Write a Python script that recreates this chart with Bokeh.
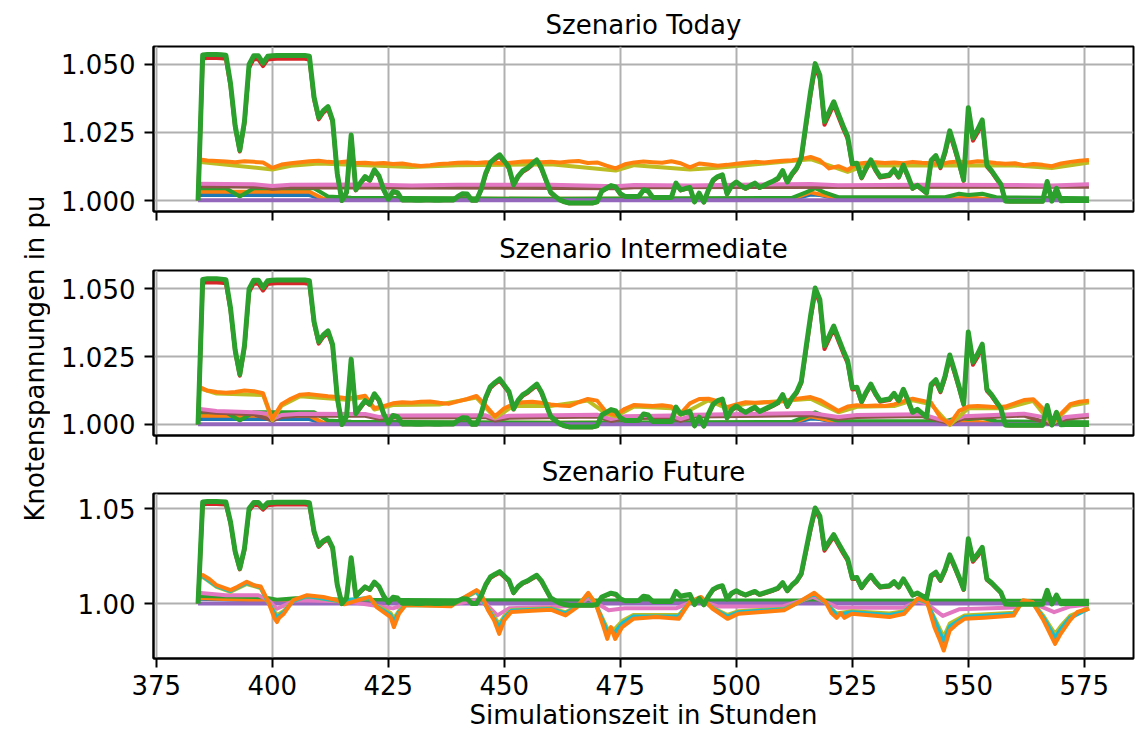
import math
from bokeh.plotting import figure
from bokeh.layouts import column, row
from bokeh.models import Range1d, FixedTicker, PrintfTickFormatter, CustomJSTickFormatter
from bokeh.core.properties import value
from bokeh.embed import file_html
from bokeh.resources import INLINE

# ---------------- data ----------------
titles = ["Szenario Today", "Szenario Intermediate", "Szenario Future"]
x_ticks = [375, 400, 425, 450, 475, 500, 525, 550, 575]
y_ticks_12 = [1.000, 1.025, 1.050]
y_ticks_3 = [1.00, 1.05]
x_label = "Simulationszeit in Stunden"
y_label = "Knotenspannungen in pu"

hours = list(range(384, 577))        # hourly time stamps
hours2 = list(range(384, 577, 2))    # two-hourly time stamps

# node with the largest voltage (identical in all scenarios), hourly
head_green = [
    1.0000, 1.0535, 1.0537, 1.0537, 1.0537, 1.0536, 1.0534, 1.0430, 1.0275, 1.0185,
    1.0290, 1.0500, 1.0532, 1.0532, 1.0505, 1.0530, 1.0532, 1.0533, 1.0533, 1.0533,
    1.0533, 1.0533, 1.0533, 1.0533, 1.0530, 1.0380, 1.0305, 1.0330, 1.0345, 1.0295,
    1.0100, 1.0000, 1.0030, 1.0241, 1.0040, 1.0065, 1.0088, 1.0075, 1.0113, 1.0090,
    1.0040, 1.0005, 1.0033, 1.0029, 1.0002, 1.0002, 1.0002, 1.0001, 1.0001, 1.0002,
    1.0002, 1.0001, 1.0001, 1.0002, 1.0002, 1.0002, 1.0015, 1.0025, 1.0024, 1.0001,
    1.0001, 1.0040, 1.0100, 1.0140, 1.0155, 1.0168, 1.0145, 1.0122, 1.0058, 1.0090,
    1.0110, 1.0120, 1.0135, 1.0149, 1.0120, 1.0075, 1.0030, 1.0015, 1.0002, 0.9995,
    0.9991, 0.9991, 0.9991, 0.9991, 0.9991, 0.9991, 0.9995, 1.0035, 1.0045, 1.0055,
    1.0050, 1.0025, 1.0015, 1.0015, 1.0015, 1.0016, 1.0039, 1.0035, 1.0011, 1.0011,
    1.0011, 1.0011, 1.0011, 1.0064, 1.0039, 1.0044, 1.0048, 0.9995, 1.0027, 0.9994,
    1.0039, 1.0075, 1.0088, 1.0094, 1.0025, 1.0055, 1.0068, 1.0055, 1.0045, 1.0055,
    1.0064, 1.0048, 1.0056, 1.0064, 1.0072, 1.0082, 1.0110, 1.0068, 1.0098, 1.0120,
    1.0158, 1.0280, 1.0400, 1.0503, 1.0461, 1.0290, 1.0326, 1.0363, 1.0318, 1.0275,
    1.0235, 1.0135, 1.0137, 1.0085, 1.0120, 1.0149, 1.0115, 1.0088, 1.0091, 1.0094,
    1.0115, 1.0088, 1.0130, 1.0090, 1.0045, 1.0056, 1.0042, 1.0028, 1.0148, 1.0165,
    1.0125, 1.0180, 1.0256, 1.0200, 1.0140, 1.0076, 1.0341, 1.0230, 1.0260, 1.0296,
    1.0130, 1.0110, 1.0085, 1.0060, 0.9998, 0.9997, 0.9997, 0.9997, 0.9997, 0.9997,
    0.9997, 0.9997, 0.9997, 1.0070, 0.9998, 1.0045, 0.9999, 1.0000, 1.0000, 1.0000,
    1.0000, 1.0000, 1.0000,
]
head_red = [
    1.0000, 1.0522, 1.0524, 1.0524, 1.0524, 1.0523, 1.0521, 1.0420, 1.0268, 1.0180,
    1.0282, 1.0488, 1.0520, 1.0519, 1.0494, 1.0518, 1.0520, 1.0521, 1.0521, 1.0521,
    1.0521, 1.0521, 1.0521, 1.0521, 1.0518, 1.0372, 1.0298, 1.0323, 1.0337, 1.0288,
    1.0096, 0.9999, 1.0028, 1.0234, 1.0037, 1.0062, 1.0084, 1.0072, 1.0109, 1.0087,
    1.0038, 1.0004, 1.0031, 1.0027, 1.0001, 1.0001, 1.0001, 1.0001, 1.0001, 1.0001,
    1.0001, 1.0001, 1.0001, 1.0001, 1.0001, 1.0001, 1.0013, 1.0023, 1.0022, 1.0000,
    1.0000, 1.0038, 1.0096, 1.0135, 1.0150, 1.0162, 1.0140, 1.0118, 1.0055, 1.0087,
    1.0106, 1.0116, 1.0130, 1.0144, 1.0116, 1.0072, 1.0028, 1.0013, 1.0001, 0.9994,
    0.9990, 0.9990, 0.9990, 0.9990, 0.9990, 0.9990, 0.9994, 1.0033, 1.0043, 1.0052,
    1.0047, 1.0023, 1.0013, 1.0013, 1.0013, 1.0014, 1.0037, 1.0033, 1.0010, 1.0010,
    1.0010, 1.0010, 1.0010, 1.0061, 1.0037, 1.0042, 1.0046, 0.9994, 1.0025, 0.9993,
    1.0037, 1.0072, 1.0085, 1.0090, 1.0023, 1.0052, 1.0065, 1.0052, 1.0043, 1.0052,
    1.0061, 1.0046, 1.0053, 1.0061, 1.0069, 1.0078, 1.0105, 1.0065, 1.0094, 1.0115,
    1.0152, 1.0270, 1.0388, 1.0490, 1.0448, 1.0278, 1.0315, 1.0352, 1.0308, 1.0265,
    1.0226, 1.0129, 1.0131, 1.0081, 1.0115, 1.0143, 1.0110, 1.0084, 1.0087, 1.0090,
    1.0110, 1.0084, 1.0124, 1.0086, 1.0043, 1.0053, 1.0040, 1.0026, 1.0142, 1.0158,
    1.0119, 1.0172, 1.0246, 1.0191, 1.0134, 1.0072, 1.0328, 1.0220, 1.0249, 1.0284,
    1.0124, 1.0105, 1.0081, 1.0057, 0.9997, 0.9996, 0.9996, 0.9996, 0.9996, 0.9996,
    0.9996, 0.9996, 0.9996, 1.0066, 0.9997, 1.0042, 0.9998, 0.9999, 0.9999, 0.9999,
    0.9999, 0.9999, 0.9999,
]

# low nodes (Today / Intermediate)
low_blue_h = [384, 408, 411, 512, 516, 518, 522, 576]
low_blue_v = [1.0020, 1.0020, 1.0004, 1.0004, 1.0022, 1.0020, 1.0006, 1.0003]
low_orange_h = [384, 408, 411, 512, 516, 522, 546, 550, 554, 576]
low_orange_v = [1.0032, 1.0032, 1.0006, 1.0006, 1.0030, 1.0008, 1.0006, 1.0012, 1.0006, 1.0004]
low_green_h = [384, 390, 393, 396, 409, 412, 417, 440, 460, 512, 515, 517, 519, 522,
               545, 548, 550, 553, 556, 576]
low_green_v = [1.0045, 1.0045, 1.0015, 1.0045, 1.0045, 1.0015, 1.0010, 1.0008, 1.0006, 1.0010,
               1.0030, 1.0045, 1.0030, 1.0012, 1.0012, 1.0025, 1.0020, 1.0025, 1.0012, 1.0008]
purple_h = [384, 576]
purple_v = [1.0001, 1.0001]

# Scenario Today
today_orange = [
    1.0152, 1.0147, 1.0145, 1.0143, 1.0141, 1.0144, 1.0142, 1.0140, 1.0120, 1.0132,
    1.0137, 1.0141, 1.0144, 1.0146, 1.0142, 1.0140, 1.0143, 1.0138, 1.0139, 1.0136,
    1.0138, 1.0134, 1.0136, 1.0131, 1.0127, 1.0130, 1.0134, 1.0136, 1.0139, 1.0140,
    1.0138, 1.0141, 1.0139, 1.0136, 1.0140, 1.0143, 1.0144, 1.0141, 1.0142, 1.0140,
    1.0143, 1.0145, 1.0138, 1.0140, 1.0128, 1.0118, 1.0133, 1.0140, 1.0143, 1.0141,
    1.0139, 1.0144, 1.0137, 1.0122, 1.0136, 1.0132, 1.0128, 1.0131, 1.0135, 1.0139,
    1.0142, 1.0140, 1.0143, 1.0146, 1.0148, 1.0152, 1.0160, 1.0148, 1.0118, 1.0126,
    1.0112, 1.0135, 1.0139, 1.0141, 1.0138, 1.0140, 1.0137, 1.0142, 1.0139, 1.0137,
    1.0133, 1.0141, 1.0143, 1.0140, 1.0144, 1.0142, 1.0138, 1.0135, 1.0137, 1.0130,
    1.0134, 1.0131, 1.0126, 1.0136, 1.0142, 1.0146, 1.0149,
]
today_olive_h = [384, 400, 404, 410, 430, 440, 460, 474, 478, 490, 496, 516, 524, 528, 560, 568, 576]
today_olive_v = [1.0142, 1.0114, 1.0128, 1.0136, 1.0123, 1.0130, 1.0133, 1.0110, 1.0130,
                 1.0114, 1.0120, 1.0152, 1.0105, 1.0130, 1.0129, 1.0119, 1.0140]
today_pink_h = [384, 396, 400, 404, 420, 430, 440, 460, 474, 478, 490, 500, 516, 522, 540, 560, 568, 576]
today_pink_v = [1.0062, 1.0060, 1.0053, 1.0058, 1.0059, 1.0055, 1.0058, 1.0058, 1.0052,
                1.0057, 1.0055, 1.0058, 1.0061, 1.0056, 1.0058, 1.0057, 1.0055, 1.0060]
today_brown_h = [384, 398, 400, 404, 430, 474, 478, 576]
today_brown_v = [1.0052, 1.0050, 1.0043, 1.0049, 1.0048, 1.0045, 1.0049, 1.0051]

# Scenario Intermediate
inter_orange = [
    1.0141, 1.0125, 1.0120, 1.0117, 1.0120, 1.0125, 1.0123, 1.0115, 1.0020, 1.0075,
    1.0095, 1.0110, 1.0112, 1.0108, 1.0104, 1.0101, 1.0097, 1.0100, 1.0106, 1.0060,
    1.0068, 1.0078, 1.0082, 1.0080, 1.0084, 1.0085, 1.0080, 1.0076, 1.0085, 1.0094,
    1.0105, 1.0070, 1.0030, 1.0060, 1.0075, 1.0082, 1.0084, 1.0080, 1.0074, 1.0070,
    1.0068, 1.0082, 1.0094, 1.0088, 1.0045, 1.0035, 1.0058, 1.0072, 1.0070, 1.0068,
    1.0071, 1.0066, 1.0040, 1.0078, 1.0094, 1.0095, 1.0086, 1.0064, 1.0074, 1.0082,
    1.0080, 1.0082, 1.0082, 1.0086, 1.0092, 1.0097, 1.0101, 1.0090, 1.0070, 1.0050,
    1.0066, 1.0071, 1.0068, 1.0070, 1.0068, 1.0074, 1.0085, 1.0095, 1.0088, 1.0080,
    1.0025, 1.0002, 1.0050, 1.0066, 1.0068, 1.0066, 1.0064, 1.0066, 1.0078, 1.0090,
    1.0093, 1.0060, 1.0005, 1.0040, 1.0075, 1.0084, 1.0088,
]
inter_olive_h = [384, 388, 398, 400, 402, 406, 416, 420, 422, 426, 436, 444, 448, 452, 460,
                 468, 472, 474, 478, 486, 488, 494, 498, 502, 516, 522, 526, 534, 538, 542,
                 546, 550, 558, 564, 568, 572, 576]
inter_olive_v = [1.0135, 1.0114, 1.0109, 1.0016, 1.0069, 1.0104, 1.0091, 1.0100, 1.0055,
                 1.0072, 1.0074, 1.0099, 1.0025, 1.0069, 1.0068, 1.0088, 1.0039, 1.0030,
                 1.0066, 1.0060, 1.0035, 1.0089, 1.0059, 1.0076, 1.0095, 1.0045, 1.0065,
                 1.0068, 1.0089, 1.0074, 0.9998, 1.0060, 1.0060, 1.0087, 1.0001, 1.0069, 1.0082]
inter_pink_h = [384, 388, 396, 399, 400, 402, 406, 420, 423, 426, 446, 448, 451, 470, 473,
                476, 486, 488, 491, 516, 522, 526, 540, 544, 546, 549, 562, 566, 568, 571, 576]
inter_pink_v = [1.0058, 1.0050, 1.0045, 1.0040, 1.0020, 1.0035, 1.0040, 1.0039, 1.0028,
                1.0033, 1.0034, 1.0022, 1.0032, 1.0036, 1.0020, 1.0030, 1.0033, 1.0020,
                1.0036, 1.0042, 1.0028, 1.0035, 1.0038, 1.0018, 1.0010, 1.0030, 1.0040,
                1.0028, 1.0005, 1.0028, 1.0036]
inter_brown_h = [384, 388, 396, 400, 402, 406, 420, 423, 426, 446, 448, 451, 470, 473, 476,
                 486, 488, 491, 516, 522, 526, 540, 546, 549, 562, 568, 571, 576]
inter_brown_v = [1.0050, 1.0043, 1.0038, 1.0014, 1.0028, 1.0033, 1.0032, 1.0021, 1.0026,
                 1.0027, 1.0015, 1.0025, 1.0029, 1.0013, 1.0023, 1.0026, 1.0013, 1.0029,
                 1.0035, 1.0021, 1.0028, 1.0031, 1.0004, 1.0023, 1.0033, 1.0000, 1.0021, 1.0029]

# Scenario Future
fut_orange_h = [384, 385, 386.5, 388, 391, 392.5, 394.5, 396, 397.5, 399, 400.5, 401, 401.5,
                402.5, 404.5, 407.5, 411, 414, 415.5, 418.5, 421, 422.5, 425.5, 426.2, 427.3,
                428.7, 431, 438.5, 441.5, 444, 445, 446.5, 447.8, 448.9, 450, 451.5, 456, 460,
                463.2, 465.7, 468.1, 469.7, 471.4, 472.2, 473, 473.9, 475.4, 477.8, 482.7,
                487.6, 490, 492.4, 494.9, 498.1, 500.5, 505.4, 510.3, 513.5, 516.8, 519.2,
                520.5, 521.6, 522.5, 523.3, 524.9, 533, 536.2, 539.1, 541.1, 542.7, 543.9,
                544.7, 546, 547.6, 549.2, 553.3, 559.8, 561.8, 563.8, 566.2, 568.7, 569.9,
                571.9, 573.5, 576]
fut_orange_v = [1.0145, 1.0150, 1.0128, 1.0097, 1.0071, 1.0088, 1.0115, 1.0097, 1.0090,
                1.0018, 0.9922, 0.9903, 0.9925, 0.9947, 1.0018, 1.0044, 1.0035, 1.0018,
                0.9996, 1.0018, 1.0035, 0.9982, 0.9929, 0.9876, 0.9947, 0.9991, 0.9991,
                0.9986, 1.0035, 1.0071, 1.0053, 0.9965, 0.9912, 0.9841, 0.9912, 0.9956,
                0.9962, 0.9968, 0.9938, 0.9982, 1.0057, 1.0000, 0.9876, 0.9814, 0.9876,
                0.9814, 0.9876, 0.9920, 0.9929, 0.9920, 1.0009, 1.0035, 0.9973, 0.9920,
                0.9947, 0.9956, 0.9965, 1.0009, 1.0057, 1.0009, 0.9950, 0.9925, 0.9950,
                0.9925, 0.9947, 0.9929, 0.9947, 1.0027, 1.0009, 0.9876, 0.9806, 0.9753,
                0.9859, 0.9894, 0.9920, 0.9926, 0.9938, 1.0018, 1.0009, 0.9912, 0.9788,
                0.9841, 0.9912, 0.9956, 0.9973]
fut_cyan_h = [384, 385, 388, 391, 394.5, 397.5, 399, 401, 402.5, 404.5, 407.5, 414, 421,
              422.5, 425.5, 426.2, 427.3, 428.7, 438.5, 441.5, 444, 446.5, 448.9, 450, 451.5,
              460, 463.2, 465.7, 468.1, 469.7, 472.2, 473.9, 475.4, 477.8, 487.6, 490, 492.4,
              494.9, 498.1, 500.5, 510.3, 513.5, 516.8, 519.2, 521.6, 524.9, 533, 536.2,
              539.1, 541.1, 543.9, 544.7, 546, 549.2, 559.8, 561.8, 563.8, 566.2, 568.7,
              569.9, 571.9, 576]
fut_cyan_v = [1.0140, 1.0145, 1.0092, 1.0066, 1.0108, 1.0085, 1.0012, 0.9925, 0.9955,
              1.0015, 1.0040, 1.0015, 1.0030, 0.9985, 0.9940, 0.9905, 0.9955, 0.9992,
              0.9990, 1.0032, 1.0066, 0.9972, 0.9875, 0.9925, 0.9962, 0.9972, 0.9948,
              0.9985, 1.0052, 0.9998, 0.9850, 0.9850, 0.9895, 0.9932, 0.9932, 1.0008,
              1.0030, 0.9976, 0.9932, 0.9955, 0.9970, 1.0008, 1.0052, 1.0006, 0.9940,
              0.9955, 0.9940, 0.9955, 1.0024, 1.0006, 0.9845, 0.9800, 0.9880, 0.9930,
              0.9945, 1.0015, 1.0008, 0.9925, 0.9820, 0.9865, 0.9925, 0.9975]
fut_olive_h = fut_cyan_h
fut_olive_v = [1.0135, 1.0140, 1.0088, 1.0062, 1.0103, 1.0082, 1.0010, 0.9938, 0.9962,
               1.0014, 1.0038, 1.0014, 1.0028, 0.9988, 0.9950, 0.9922, 0.9962, 0.9993,
               0.9991, 1.0030, 1.0062, 0.9976, 0.9892, 0.9935, 0.9966, 0.9975, 0.9955,
               0.9987, 1.0050, 0.9998, 0.9868, 0.9868, 0.9908, 0.9940, 0.9940, 1.0007,
               1.0028, 0.9978, 0.9940, 0.9960, 0.9973, 1.0007, 1.0050, 1.0005, 0.9948,
               0.9960, 0.9948, 0.9960, 1.0022, 1.0005, 0.9865, 0.9825, 0.9895, 0.9938,
               0.9952, 1.0013, 1.0007, 0.9935, 0.9840, 0.9880, 0.9935, 0.9978]
fut_pink_h = [384, 390, 397, 399, 401, 403, 405, 415, 418, 426, 429, 440, 444, 446, 448.5,
              451, 460, 466, 468, 470, 472.5, 476, 487, 490, 492, 496, 510, 516.5, 520, 522,
              536, 539, 541, 544.5, 548, 560, 562, 564, 568.5, 572, 576]
fut_pink_v = [1.0057, 1.0044, 1.0044, 1.0020, 0.9973, 0.9995, 1.0018, 1.0012, 1.0005,
              0.9975, 0.9998, 1.0000, 1.0020, 1.0000, 0.9938, 0.9975, 0.9982, 0.9990,
              1.0030, 1.0000, 0.9965, 0.9975, 0.9975, 1.0005, 1.0015, 0.9985, 0.9985,
              1.0035, 1.0000, 0.9978, 0.9978, 1.0012, 1.0000, 0.9935, 0.9970, 0.9980,
              1.0008, 1.0002, 0.9955, 0.9985, 0.9995]
fut_green_h = [384, 398, 401, 405, 416, 440, 470, 576]
fut_green_v = [1.0040, 1.0034, 1.0020, 1.0028, 1.0020, 1.0018, 1.0016, 1.0015]
fut_blue_h = [384, 400, 576]
fut_blue_v = [1.0025, 1.0015, 1.0005]
fut_orange_lo_h = [384, 400, 576]
fut_orange_lo_v = [1.0030, 1.0015, 1.0004]

# ---------------- styling ----------------
C = {"blue": "#1f77b4", "orange": "#ff7f0e", "green": "#2ca02c", "red": "#d62728",
     "purple": "#9467bd", "brown": "#8c564b", "pink": "#e377c2", "gray": "#7f7f7f",
     "olive": "#bcbd22", "cyan": "#17becf"}
FONT = "DejaVu Sans"
FS = "26px"
LW = 4
LW_HEAD = 5
LEFT_W = 50


def make_fig(title, y_start, y_end, yticks, fmt, top, bottom, show_x, xlab=None):
    p = figure(width=1145 - LEFT_W, frame_width=980, frame_height=165,
               x_range=Range1d(374.4, 585.6), y_range=Range1d(y_start, y_end),
               output_backend="svg", toolbar_location=None,
               min_border_left=153 - LEFT_W, min_border_right=12,
               min_border_top=top, min_border_bottom=bottom)
    p.title.text = title
    p.title.align = "center"
    p.title.text_font = FONT
    p.title.text_font_size = FS
    p.title.text_font_style = "normal"
    p.title.text_color = "black"
    p.title.standoff = 14
    p.outline_line_color = "black"
    p.outline_line_width = 2
    p.outline_line_alpha = 1
    p.background_fill_color = "white"
    p.border_fill_color = "white"

    p.xaxis.ticker = FixedTicker(ticks=x_ticks)
    p.yaxis.ticker = FixedTicker(ticks=yticks)
    p.yaxis.formatter = PrintfTickFormatter(format=fmt)
    for ax in (p.xaxis[0], p.yaxis[0]):
        ax.major_tick_out = 9
        ax.major_tick_in = 0
        ax.minor_tick_out = 0
        ax.minor_tick_in = 0
        ax.major_tick_line_width = 2
        ax.major_tick_line_color = "black"
        ax.axis_line_width = 2
        ax.axis_line_color = "black"
        ax.major_label_text_font = FONT
        ax.major_label_text_font_size = FS
        ax.major_label_text_color = "black"
        ax.major_label_standoff = 7
        ax.axis_label_text_font = FONT
        ax.axis_label_text_font_size = FS
        ax.axis_label_text_font_style = "normal"
        ax.axis_label_text_color = "black"
    p.yaxis.major_label_standoff = 9
    if not show_x:
        # shared x axis: tick marks only, labels are shown below the last panel
        p.xaxis.formatter = CustomJSTickFormatter(code="return ''")
        p.xaxis.major_label_text_font_size = "1px"
        p.xaxis.major_label_standoff = 0
    if xlab:
        p.xaxis.axis_label = xlab
        p.xaxis.axis_label_standoff = 2
    p.grid.grid_line_color = "#b0b0b0"
    p.grid.grid_line_width = 2
    return p


def add(p, xs, ys, color, lw=LW):
    p.line(xs, ys, line_color=C[color], line_width=lw, line_join="round")


p1 = make_fig(titles[0], 0.99596, 1.0566, y_ticks_12, "%.3f", 45, 12, False)
p2 = make_fig(titles[1], 0.99594, 1.05678, y_ticks_12, "%.3f", 47, 11, False)
p3 = make_fig(titles[2], 0.97112, 1.05792, y_ticks_3, "%.2f", 47, 81, True, xlab=x_label)

# Today
add(p1, low_blue_h, low_blue_v, "blue")
add(p1, low_orange_h, low_orange_v, "orange")
add(p1, low_green_h, low_green_v, "green")
add(p1, hours, head_red, "red")
add(p1, purple_h, purple_v, "purple")
add(p1, today_brown_h, today_brown_v, "brown")
add(p1, today_pink_h, today_pink_v, "pink")
add(p1, today_olive_h, today_olive_v, "olive")
add(p1, hours2, today_orange, "orange")
add(p1, hours, head_green, "green", LW_HEAD)

# Intermediate
add(p2, low_blue_h, low_blue_v, "blue")
add(p2, low_orange_h, low_orange_v, "orange")
add(p2, low_green_h, low_green_v, "green")
add(p2, hours, head_red, "red")
add(p2, purple_h, purple_v, "purple")
add(p2, inter_brown_h, inter_brown_v, "brown")
add(p2, inter_pink_h, inter_pink_v, "pink")
add(p2, inter_olive_h, inter_olive_v, "olive")
add(p2, hours2, inter_orange, "orange")
add(p2, hours, head_green, "green", LW_HEAD)

# Future
add(p3, fut_blue_h, fut_blue_v, "blue")
add(p3, fut_orange_lo_h, fut_orange_lo_v, "orange")
add(p3, fut_green_h, fut_green_v, "green")
add(p3, hours, head_red, "red")
add(p3, purple_h, purple_v, "purple")
add(p3, fut_pink_h, fut_pink_v, "pink")
add(p3, fut_olive_h, fut_olive_v, "olive")
add(p3, fut_cyan_h, fut_cyan_v, "cyan")
add(p3, fut_orange_h, fut_orange_v, "orange")
add(p3, hours, head_green, "green", LW_HEAD)

# shared y-axis label in its own narrow strip spanning the full height
lab = figure(width=LEFT_W, height=738, x_range=Range1d(0, LEFT_W), y_range=Range1d(0, 738),
             output_backend="svg", toolbar_location=None,
             min_border_left=0, min_border_right=0, min_border_top=0, min_border_bottom=0)
lab.axis.visible = False
lab.grid.visible = False
lab.outline_line_color = None
lab.text(x=[34], y=[738 - 358], text=[y_label], angle=math.pi / 2,
         text_align="center", text_baseline="middle",
         text_font=value(FONT), text_font_size=FS, text_color="black")

layout = row(lab, column(p1, p2, p3, spacing=0), spacing=0)
open("out.html", "w").write(file_html(layout, INLINE))
